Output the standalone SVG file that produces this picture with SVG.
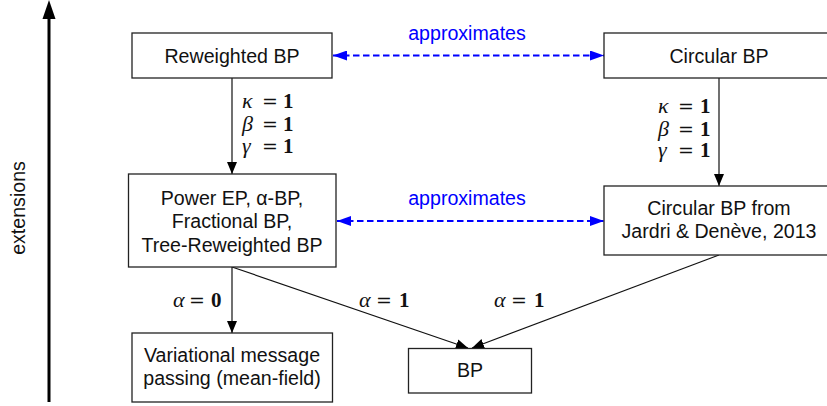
<svg xmlns="http://www.w3.org/2000/svg" width="827" height="406" viewBox="0 0 827 406">
<style>
.box{fill:#fff;stroke:#222;stroke-width:1.3}
.t{font-family:"Liberation Sans",Arial,sans-serif;font-size:19.6px;fill:#111;text-anchor:middle}
.ap{font-family:"Liberation Sans",Arial,sans-serif;font-size:19.6px;fill:#0000ff;text-anchor:middle}
.m{font-family:"Liberation Serif","Times New Roman",serif;font-size:20px;fill:#111}
.g{font-style:italic;font-size:22px}
.eq{font-family:"DejaVu Serif",serif;font-size:19px}
.b{font-weight:bold;font-size:21px}
.c{fill:none;stroke:#111;stroke-width:1.2}
.d{fill:none;stroke:#0000ff;stroke-width:2;stroke-dasharray:6.5 3.5}
</style>
<defs>
<marker id="ah" markerUnits="userSpaceOnUse" markerWidth="12" markerHeight="10" refX="12" refY="5" orient="auto"><path d="M0,0 L12,5 L0,10 z" fill="#000"/></marker>
<marker id="bh" markerUnits="userSpaceOnUse" markerWidth="14" markerHeight="10" refX="14" refY="5" orient="auto-start-reverse"><path d="M0,0 L14,5 L0,10 z" fill="#0000ff"/></marker>
</defs>
<g id="axis">
<line x1="49" y1="402" x2="49" y2="18" stroke="#000" stroke-width="3"/>
<polygon points="49,0 42.5,19 55.5,19" fill="#000"/>
<text class="t" transform="translate(25,208) rotate(-90)">extensions</text>
</g>
<g id="connectors">
<line class="c" x1="232" y1="78" x2="232" y2="174" marker-end="url(#ah)"/>
<line class="c" x1="719" y1="78" x2="719" y2="186" marker-end="url(#ah)"/>
<line class="c" x1="232" y1="267" x2="232" y2="333" marker-end="url(#ah)"/>
<line class="c" x1="232" y1="267" x2="468" y2="348" marker-end="url(#ah)"/>
<line class="c" x1="719" y1="255" x2="472" y2="348" marker-end="url(#ah)"/>
<line class="d" x1="333" y1="55.5" x2="604" y2="55.5" marker-start="url(#bh)" marker-end="url(#bh)"/>
<line class="d" x1="337" y1="221" x2="604" y2="221" marker-start="url(#bh)" marker-end="url(#bh)"/>
<text class="ap" x="467" y="40">approximates</text>
<text class="ap" x="467" y="205">approximates</text>
<text class="m" y="108"><tspan class="g" x="242">κ</tspan><tspan class="eq" x="262">=</tspan><tspan class="b" x="283">1</tspan></text>
<text class="m" y="131"><tspan class="g" x="242">β</tspan><tspan class="eq" x="262">=</tspan><tspan class="b" x="283">1</tspan></text>
<text class="m" y="152.5"><tspan class="g" x="242">γ</tspan><tspan class="eq" x="262">=</tspan><tspan class="b" x="283">1</tspan></text>
<text class="m" y="113"><tspan class="g" x="658">κ</tspan><tspan class="eq" x="678">=</tspan><tspan class="b" x="700">1</tspan></text>
<text class="m" y="136"><tspan class="g" x="658">β</tspan><tspan class="eq" x="678">=</tspan><tspan class="b" x="700">1</tspan></text>
<text class="m" y="157"><tspan class="g" x="658">γ</tspan><tspan class="eq" x="678">=</tspan><tspan class="b" x="700">1</tspan></text>
<text class="m" y="306.5"><tspan class="g" x="173">α</tspan><tspan class="eq" x="189">=</tspan><tspan class="b" x="211">0</tspan></text>
<text class="m" y="306.5"><tspan class="g" x="359">α</tspan><tspan class="eq" x="376">=</tspan><tspan class="b" x="399">1</tspan></text>
<text class="m" y="306.5"><tspan class="g" x="494">α</tspan><tspan class="eq" x="511">=</tspan><tspan class="b" x="534">1</tspan></text>
</g>
<g id="reweighted">
<rect class="box" x="132" y="33" width="200" height="45"/>
<text class="t" x="232" y="62.5">Reweighted BP</text>
</g>
<g id="circular">
<rect class="box" x="604" y="33" width="230" height="45"/>
<text class="t" x="719" y="62.5">Circular BP</text>
</g>
<g id="power">
<rect class="box" x="128.5" y="174" width="207.5" height="93"/>
<text class="t" x="232" y="205">Power EP, α-BP,</text>
<text class="t" x="232" y="228">Fractional BP,</text>
<text class="t" x="232" y="251.5">Tree-Reweighted BP</text>
</g>
<g id="jardri">
<rect class="box" x="604" y="186" width="230" height="69"/>
<text class="t" x="719" y="215">Circular BP from</text>
<text class="t" x="719" y="238">Jardri &amp; Denève, 2013</text>
</g>
<g id="variational">
<rect class="box" x="132" y="333" width="200.5" height="69"/>
<text class="t" x="232" y="362">Variational message</text>
<text class="t" x="232" y="385">passing (mean-field)</text>
</g>
<g id="bp">
<rect class="box" x="408.5" y="348.5" width="123" height="44.5"/>
<text class="t" x="470" y="377">BP</text>
</g>
</svg>
